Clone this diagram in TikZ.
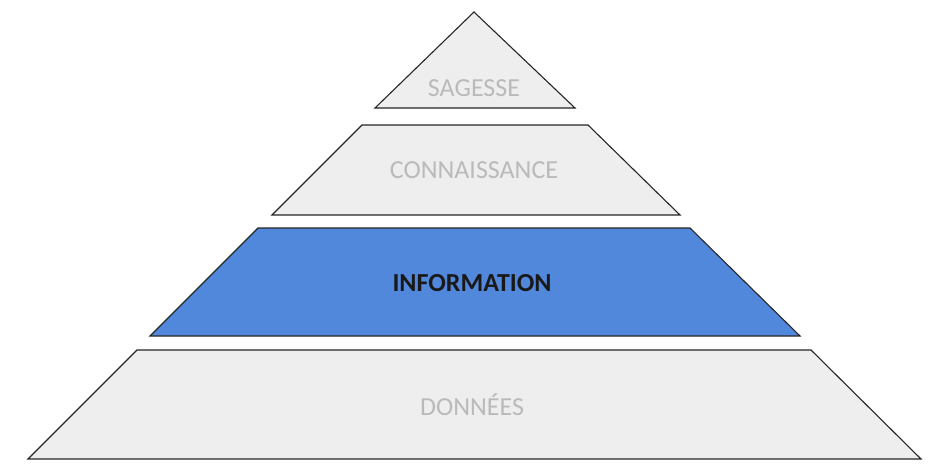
\documentclass[tikz,border=0pt]{standalone}
\usepackage{fontspec}
\setmainfont{Carlito}
\begin{document}
\begin{tikzpicture}[x=1pt,y=-1pt,
  lvl/.style={draw=black!85,line width=1.1pt,line join=miter},
  grey/.style={lvl,fill=gray!13},
  lbl/.style={font=\fontsize{26}{26}\selectfont,text=black!27}]
\fill[white] (0,0) rectangle (948,469);
\useasboundingbox (0,0) rectangle (948,469);
\definecolor{blu}{RGB}{82,136,220}
\draw[grey] (474,12) -- (575,108) -- (375,108) -- cycle;
\node[lbl] (s) at (474,88) {SAGESSE};
\draw[grey] (362,125) -- (588,125) -- (680,215) -- (272,215) -- cycle;
\node[lbl] (c) at (474,170) {CONNAISSANCE};
\draw[lvl,fill=blu] (258,228) -- (690,228) -- (800,336) -- (150,336) -- cycle;
\node[font=\fontsize{26}{26}\selectfont\bfseries,text=black!90] (i) at (472,283) {INFORMATION};
\draw[grey] (137,350) -- (811,350) -- (921,459) -- (28,459) -- cycle;
\node[lbl] (d) at (472,405) {DONNÉES};
\end{tikzpicture}
\end{document}
